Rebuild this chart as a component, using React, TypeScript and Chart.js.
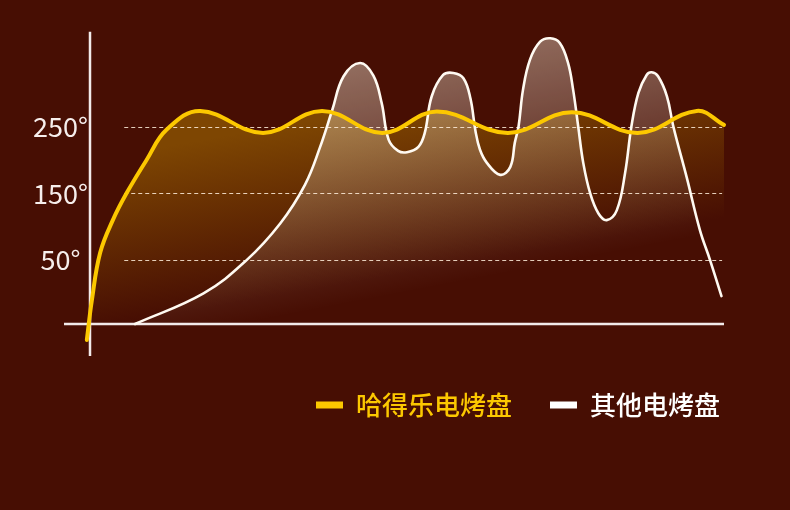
import React, { useEffect, useRef } from "react";
import { Chart, registerables } from "chart.js";

Chart.register(...registerables);

// ---------- data ----------
const SERIES_NAMES = ["哈得乐电烤盘", "其他电烤盘"];
const Y_TICKS = [50, 150, 250];
const TICK_SUFFIX = "°";

// 哈得乐电烤盘 (yellow)
const HDL_X = [-0.5, 0.3, 1.6, 3.6, 5.8, 8.9, 12.1, 17.4, 27.3, 36.6, 46.1, 54.7, 65.9, 76.0, 86.4, 95.7, 100];
const HDL_Y = [-70, -10, 61, 110, 151, 200, 246, 274, 241, 274, 241, 273, 241, 272, 241, 274, 253];

// 其他电烤盘 (white)
const OTHER_X = [7.1, 17.9, 24.7, 30.0, 33.9, 36.3, 38.2, 40.0, 42.6, 44.7, 46.0, 47.1, 48.6, 50.0, 51.8, 52.8, 53.9, 55.7, 57.3, 58.9, 60.0, 60.8, 61.5, 62.6, 64.7, 66.3, 67.0, 67.6, 68.3, 69.4, 71.0, 72.6, 74.1, 75.4, 76.2, 77.0, 77.8, 78.9, 80.2, 81.5, 83.1, 84.4, 85.4, 86.5, 87.8, 88.6, 89.6, 91.0, 92.0, 94.1, 96.2, 97.8, 99.6];
const OTHER_Y = [-46, 0, 50, 105, 163, 220, 275, 326, 346, 327, 286, 231, 214, 212, 220, 241, 296, 328, 331, 323, 293, 244, 216, 196, 178, 190, 226, 251, 306, 351, 378, 383, 376, 346, 306, 251, 196, 150, 120, 110, 125, 181, 251, 301, 328, 332, 326, 296, 251, 175, 95, 50, -4];

// axis extents (data units)
const BASELINE = -46;
const Y_RANGE = [-91, 400];
const X_RANGE = [0, 100];
const Y_AXIS_EXTENT = [-94, 393];
const X_AXIS_EXTENT = [-4.1, 100];
const GRID_EXTENT = [5.4, 99.7];

// ---------- styles ----------
const BG = "#470e03";
const YELLOW = "#fcc800";
const WHITE = "#fffaf2";
const FONT = "'Noto Sans CJK SC', 'Noto Sans', sans-serif";

const toPoints = (xs: number[], ys: number[]) => xs.map((x, i) => ({ x, y: ys[i] }));

const decorPlugin = {
  id: "decor",
  beforeDatasetsDraw(chart: any) {
    const { ctx, scales } = chart;
    const x = scales.x;
    const y = scales.y;
    ctx.save();
    ctx.strokeStyle = "rgba(255,238,220,0.85)";
    ctx.lineWidth = 1;
    ctx.setLineDash([4, 3]);
    for (const t of Y_TICKS) {
      const py = Math.round(y.getPixelForValue(t)) + 0.5;
      ctx.beginPath();
      ctx.moveTo(x.getPixelForValue(GRID_EXTENT[0]), py);
      ctx.lineTo(x.getPixelForValue(GRID_EXTENT[1]), py);
      ctx.stroke();
    }
    ctx.setLineDash([]);
    ctx.strokeStyle = "#f2eaea";
    ctx.lineWidth = 2.5;
    const ax = x.getPixelForValue(0);
    ctx.beginPath();
    ctx.moveTo(ax, y.getPixelForValue(Y_AXIS_EXTENT[1]));
    ctx.lineTo(ax, y.getPixelForValue(Y_AXIS_EXTENT[0]));
    ctx.stroke();
    const by = y.getPixelForValue(BASELINE);
    ctx.beginPath();
    ctx.moveTo(x.getPixelForValue(X_AXIS_EXTENT[0]), by);
    ctx.lineTo(x.getPixelForValue(X_AXIS_EXTENT[1]), by);
    ctx.stroke();
    ctx.restore();
  },
};

export default function App() {
  const ref = useRef<HTMLCanvasElement | null>(null);

  useEffect(() => {
    if (!ref.current) return;
    const yellowFill = (c: any) => {
      const { chart } = c;
      if (!chart.chartArea) return "rgba(0,0,0,0)";
      const { x, y } = chart.scales;
      const g = chart.ctx.createLinearGradient(
        x.getPixelForValue(17.4), y.getPixelForValue(230),
        x.getPixelForValue(21.9), y.getPixelForValue(-16)
      );
      g.addColorStop(0, "#7e4602");
      g.addColorStop(1, BG);
      return g;
    };
    const whiteFill = (c: any) => {
      const { chart } = c;
      if (!chart.chartArea) return "rgba(0,0,0,0)";
      const { x, y } = chart.scales;
      const g = chart.ctx.createLinearGradient(
        x.getPixelForValue(37.9), y.getPixelForValue(380),
        x.getPixelForValue(45.7), y.getPixelForValue(-6)
      );
      g.addColorStop(0, "rgba(255,246,228,0.46)");
      g.addColorStop(1, "rgba(255,246,228,0)");
      return g;
    };

    const common = {
      cubicInterpolationMode: "default",
      tension: 0.4,
      pointRadius: 0,
      clip: false,
    };

    const chart = new Chart(ref.current, {
      type: "line",
      data: {
        datasets: [
          {
            ...common,
            label: SERIES_NAMES[0],
            data: toPoints(HDL_X, HDL_Y),
            borderColor: YELLOW,
            borderWidth: 4,
            fill: false,
            order: 0,
            borderCapStyle: "round",
            borderJoinStyle: "round",
          },
          {
            ...common,
            label: SERIES_NAMES[1],
            data: toPoints(OTHER_X, OTHER_Y),
            borderColor: WHITE,
            borderWidth: 2.6,
            backgroundColor: whiteFill,
            fill: { value: BASELINE },
            order: 1,
            borderCapStyle: "round",
          },
          {
            ...common,
            label: "",
            data: toPoints(HDL_X, HDL_Y),
            borderColor: "rgba(0,0,0,0)",
            borderWidth: 0,
            backgroundColor: yellowFill,
            fill: { value: BASELINE },
            order: 2,
            clip: undefined,
          },
        ],
      } as any,
      options: {
        responsive: false,
        animation: false,
        events: [],
        layout: { padding: { top: 27, left: 8, right: 32, bottom: 82 } },
        scales: {
          x: {
            type: "linear",
            min: X_RANGE[0],
            max: X_RANGE[1],
            display: false,
          },
          y: {
            type: "linear",
            position: "left",
            min: Y_RANGE[0],
            max: Y_RANGE[1],
            afterBuildTicks: (s: any) => {
              s.ticks = Y_TICKS.map((v) => ({ value: v }));
            },
            afterFit: (s: any) => {
              s.width = 82;
            },
            grid: { display: false, drawTicks: false },
            border: { display: false },
            ticks: {
              color: "#f6eeec",
              padding: 2,
              crossAlign: "center",
              font: { family: FONT, size: 27 },
              callback: (v: any) => `${v}${TICK_SUFFIX}`,
            },
          },
          y2: {
            type: "linear",
            position: "right",
            display: true,
            grid: { display: false, drawTicks: false },
            border: { display: false },
            ticks: { display: false },
            afterFit: (s: any) => {
              s.width = 34;
            },
          },
        },
        plugins: {
          filler: { drawTime: "beforeDatasetsDraw" },
          tooltip: { enabled: false },
          legend: {
            position: "bottom",
            align: "end",
            labels: {
              boxWidth: 27,
              boxHeight: 7,
              padding: 38,
              font: { family: FONT, size: 26, weight: "500" },
              generateLabels: () =>
                [YELLOW, "#ffffff"].map((col, i) => ({
                  text: SERIES_NAMES[i],
                  fillStyle: col,
                  strokeStyle: col,
                  lineWidth: 0,
                  fontColor: col,
                  hidden: false,
                  datasetIndex: i,
                })),
            },
          },
        },
      } as any,
      plugins: [decorPlugin],
    });
    return () => chart.destroy();
  }, []);

  return (
    <div style={{ position: "fixed", left: 0, top: 0, width: 790, height: 510, background: BG }}>
      <canvas ref={ref} width={790} height={510} style={{ display: "block" }} />
    </div>
  );
}
